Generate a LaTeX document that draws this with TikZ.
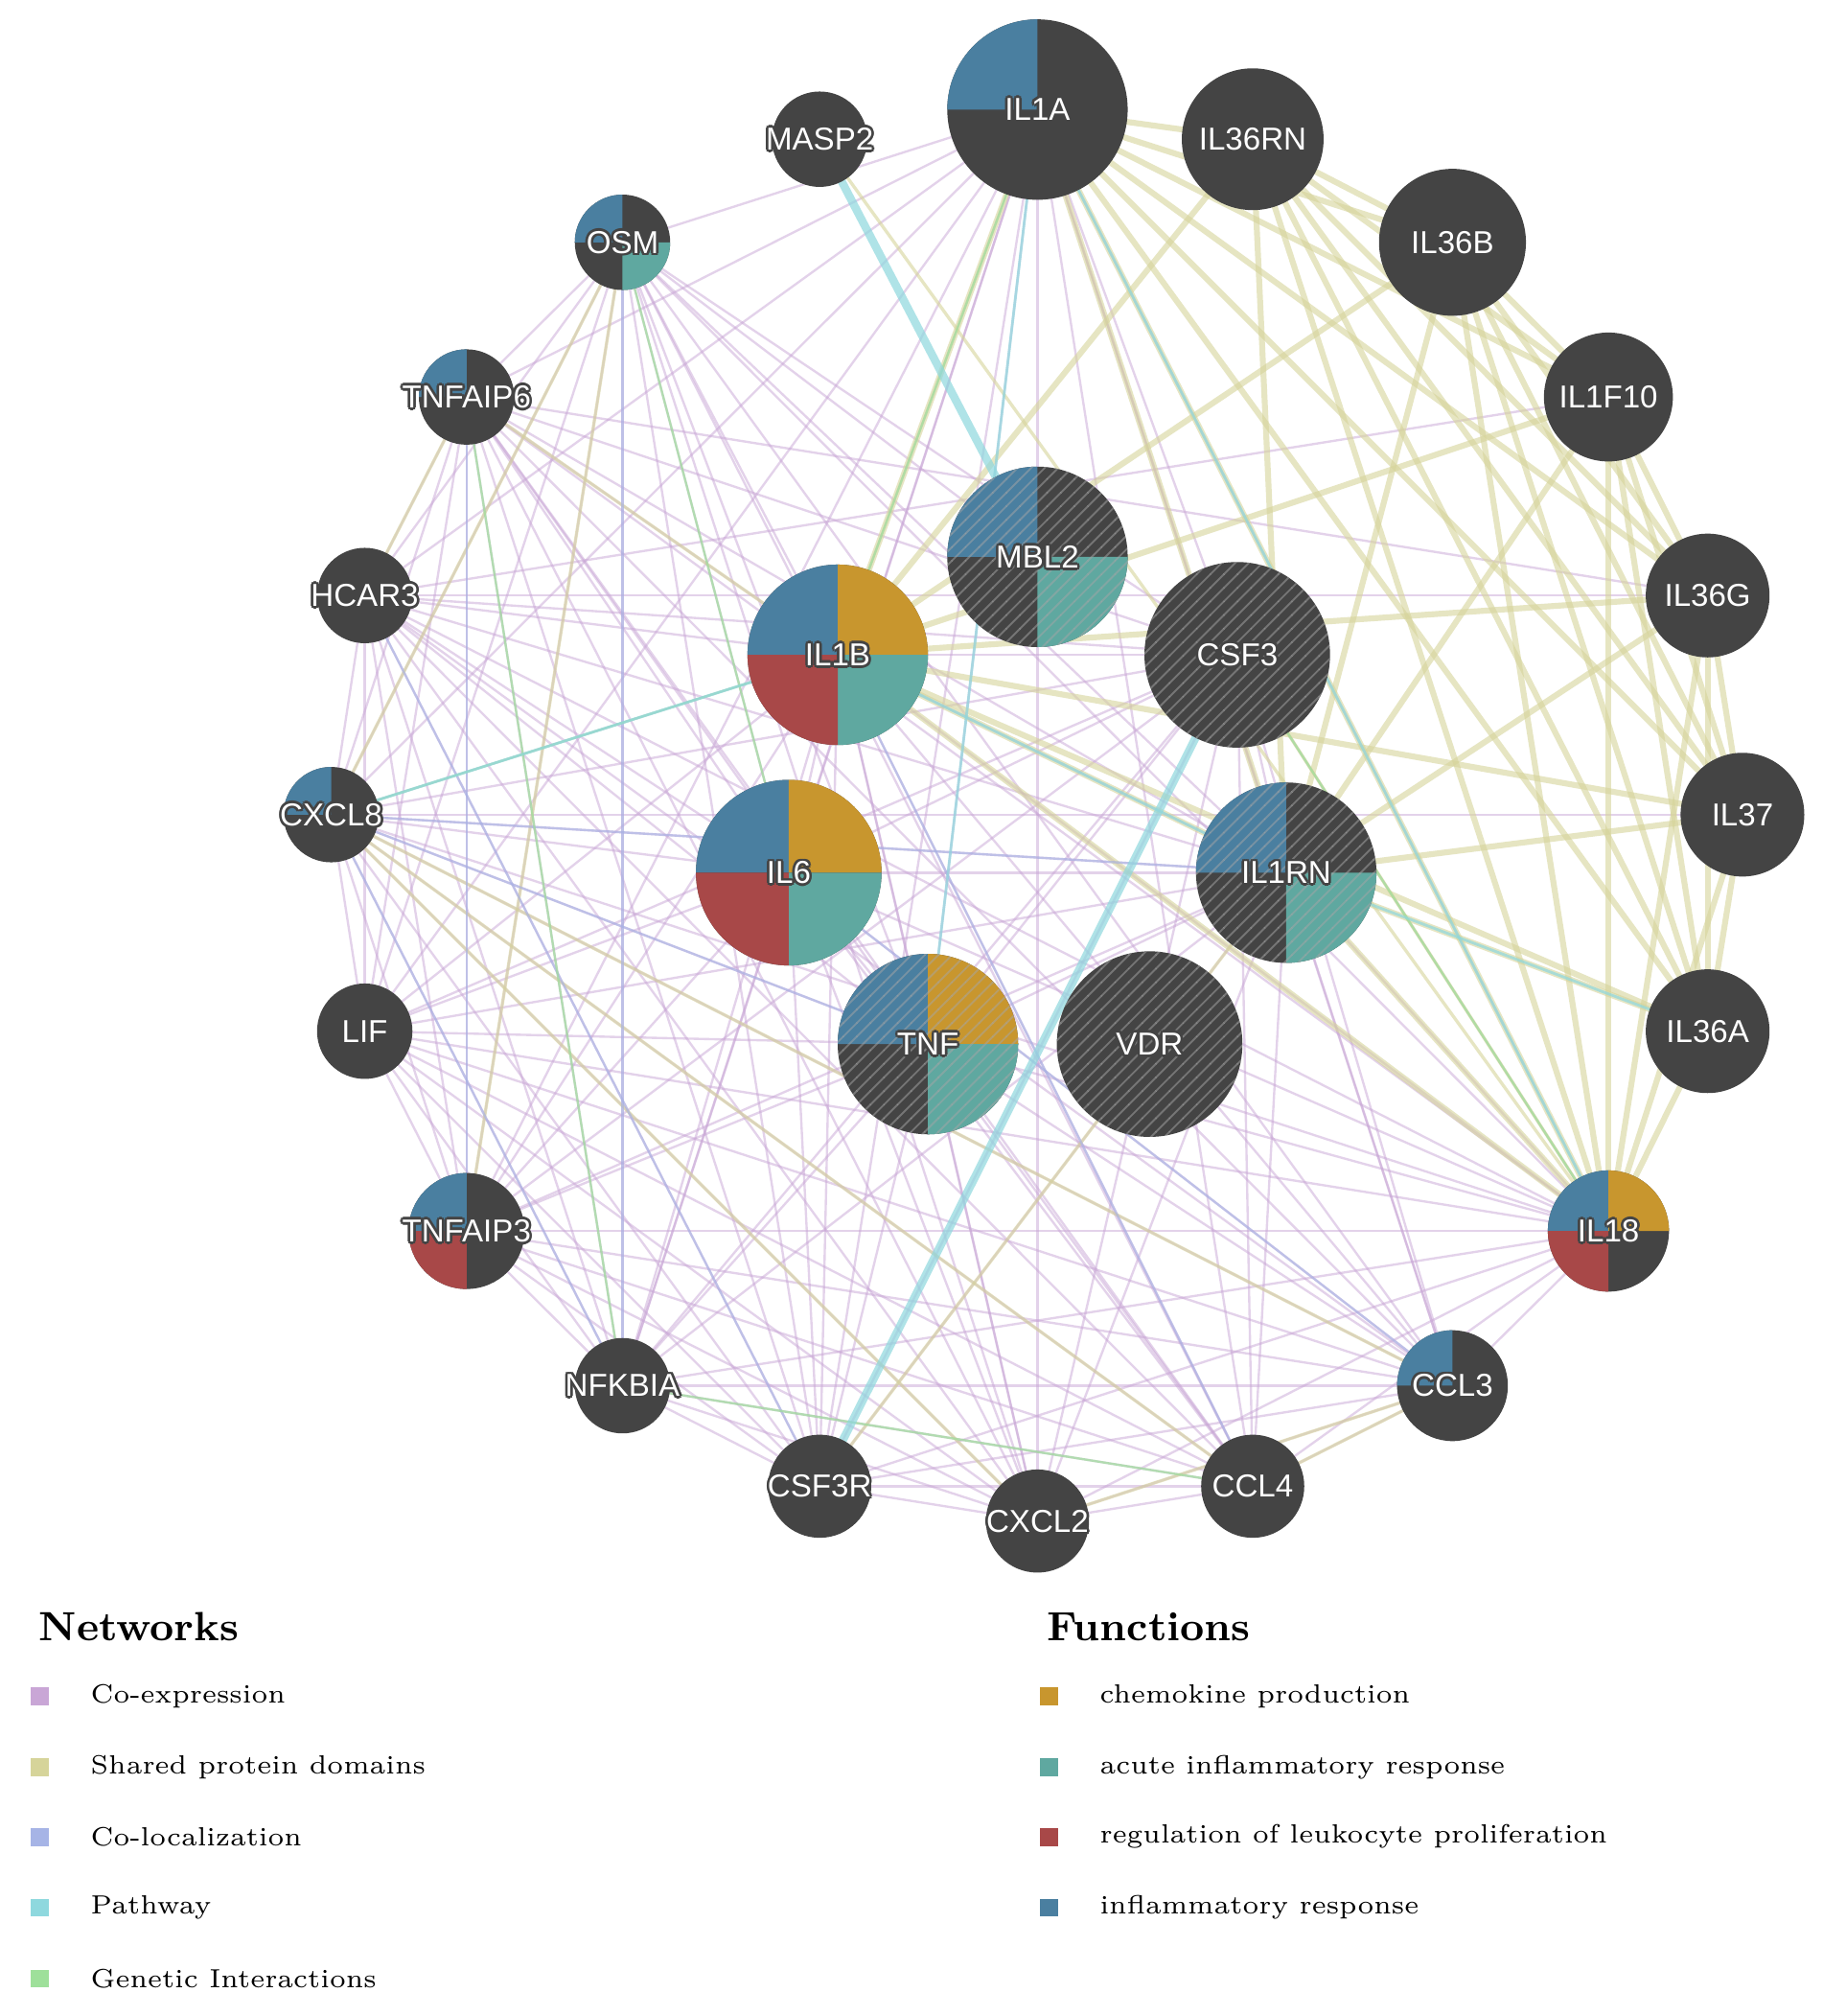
\documentclass[tikz,border=0pt]{standalone}
\usepackage{fontspec}
\setmainfont{Latin Modern Roman}
\newfontfamily\lab{Liberation Sans}
\usetikzlibrary{patterns,calc}
\definecolor{cblue}{HTML}{4A7FA0}
\definecolor{corange}{HTML}{C8962E}
\definecolor{cteal}{HTML}{5FA8A0}
\definecolor{cred}{HTML}{A84848}
\definecolor{cdark}{HTML}{444444}
\definecolor{ecoex}{HTML}{C9A6D6}
\definecolor{eshared}{HTML}{D6D49A}
\definecolor{ecoloc}{HTML}{A6B4E6}
\definecolor{epath}{HTML}{8ED8DE}
\definecolor{egen}{HTML}{9EE09A}
\tikzset{
 gene/.style={circle,fill=cdark,inner sep=0pt},
 lbl/.style={font=\lab\fontsize{7}{8}\selectfont,text=white},
 halo/.style={font=\lab\fontsize{7}{8}\selectfont,text=cdark},
 coex/.style={ecoex,line width=0.5pt,opacity=0.5},
 shared/.style={eshared,line width=1.3pt,opacity=0.6},
 coloc/.style={ecoloc,line width=0.5pt,opacity=0.6},
 path/.style={epath,line width=1.8pt,opacity=0.7},
 gen/.style={egen,line width=0.5pt,opacity=0.7},
 leg/.style={font=\fontsize{5.8}{7}\selectfont,anchor=west},
 legh/.style={font=\bfseries\fontsize{9}{11}\selectfont,anchor=west},
}
\newcommand{\qd}[4]{% center, radius, start angle, color
 \fill[#4] (#1) -- ++(#3:#2) arc[start angle=#3,delta angle=90,radius=#2] -- cycle;}
\begin{document}
\begin{tikzpicture}[x=0.01cm,y=-0.01cm]
\useasboundingbox (0,0) rectangle (1414,1564);
\fill[white] (0,0) rectangle (1414,1564);
\foreach \n/\x/\y in {IL1A/805/85,MASP2/636/108,IL36RN/972/108,OSM/483/188,IL36B/1127/188,TNFAIP6/362/308,IL1F10/1248/308,HCAR3/283/462,MBL2/805/432,IL36G/1325/462,IL1B/650/508,CSF3/960/508,CXCL8/257/632,IL37/1352/632,IL6/612/677,IL1RN/998/677,LIF/283/800,TNF/720/810,VDR/892/810,IL36A/1325/800,TNFAIP3/362/955,IL18/1248/955,NFKBIA/483/1075,CCL3/1127/1075,CSF3R/636/1153,CCL4/972/1153,CXCL2/805/1180}
 {\coordinate (\n) at (\x,\y);}
% co-expression
\foreach \a [count=\i] in {OSM,TNFAIP6,HCAR3,CXCL8,LIF,TNFAIP3,NFKBIA,CSF3R,CXCL2,CCL4,CCL3,IL1B,IL6,TNF,IL1A,IL1RN,CSF3,IL18}
 {\foreach \b [count=\j] in {OSM,TNFAIP6,HCAR3,CXCL8,LIF,TNFAIP3,NFKBIA,CSF3R,CXCL2,CCL4,CCL3,IL1B,IL6,TNF,IL1A,IL1RN,CSF3,IL18}
  {\ifnum\j>\i \draw[coex] (\a) -- (\b);\fi}}
\foreach \a/\b in {OSM/MBL2,TNFAIP6/IL36G,HCAR3/IL36G,CXCL8/IL37,HCAR3/IL1F10}
 {\draw[coex] (\a) -- (\b);}
% shared protein domains
\foreach \a [count=\i] in {IL1A,IL36RN,IL36B,IL1F10,IL36G,IL37,IL36A,IL18,IL1B,IL1RN}
 {\foreach \b [count=\j] in {IL1A,IL36RN,IL36B,IL1F10,IL36G,IL37,IL36A,IL18,IL1B,IL1RN}
  {\ifnum\j>\i \draw[shared] (\a) -- (\b);\fi}}
\foreach \a/\b in {OSM/CXCL8,OSM/TNFAIP3,TNFAIP6/HCAR3,CCL3/CXCL2,CCL4/CXCL8,CXCL2/CXCL8,CCL3/CXCL8,CCL4/CCL3,MASP2/IL18,TNFAIP6/IL1B,CSF3/IL18,CSF3R/IL1RN}
 {\draw[shared,line width=0.7pt] (\a) -- (\b);}
% co-localization
\foreach \a/\b in {OSM/NFKBIA,TNFAIP6/TNFAIP3,HCAR3/CSF3R,CXCL8/IL1RN,IL6/CCL3,TNF/CXCL8,NFKBIA/CXCL8,IL1B/CCL4}
 {\draw[coloc] (\a) -- (\b);}
% genetic interactions
\foreach \a/\b in {TNFAIP6/NFKBIA,IL1A/IL1B,CXCL8/IL1B,IL18/CSF3,NFKBIA/CCL4,OSM/IL6}
 {\draw[gen] (\a) -- (\b);}
% pathway
\draw[path] (MASP2) -- (MBL2);
\draw[path] (CSF3R) -- (CSF3);
\foreach \a/\b in {IL1A/IL18,IL1RN/IL1B,CXCL8/IL1B,TNF/IL1A,IL36A/IL1RN}
 {\draw[epath,line width=0.6pt,opacity=0.7] (\a) -- (\b);}
% nodes
\foreach \n/\r in {IL1A/70,MASP2/37,IL36RN/55,OSM/37,IL36B/57,TNFAIP6/37,IL1F10/50,HCAR3/37,MBL2/70,IL36G/48,IL1B/70,CSF3/72,CXCL8/37,IL37/48,IL6/72,IL1RN/70,LIF/37,TNF/70,VDR/72,IL36A/48,TNFAIP3/45,IL18/47,NFKBIA/37,CCL3/43,CSF3R/40,CCL4/40,CXCL2/40}
 {\fill[cdark] (\n) circle[radius=\r];}
\qd{IL1A}{70}{180}{cblue}
\qd{OSM}{37}{180}{cblue}\qd{OSM}{37}{0}{cteal}
\qd{TNFAIP6}{37}{180}{cblue}
\qd{MBL2}{70}{180}{cblue}\qd{MBL2}{70}{0}{cteal}
\qd{IL1B}{70}{180}{cblue}\qd{IL1B}{70}{270}{corange}\qd{IL1B}{70}{0}{cteal}\qd{IL1B}{70}{90}{cred}
\qd{IL6}{72}{180}{cblue}\qd{IL6}{72}{270}{corange}\qd{IL6}{72}{0}{cteal}\qd{IL6}{72}{90}{cred}
\qd{CXCL8}{37}{180}{cblue}
\qd{IL1RN}{70}{180}{cblue}\qd{IL1RN}{70}{0}{cteal}
\qd{TNF}{70}{180}{cblue}\qd{TNF}{70}{270}{corange}\qd{TNF}{70}{0}{cteal}
\qd{TNFAIP3}{45}{180}{cblue}\qd{TNFAIP3}{45}{90}{cred}
\qd{IL18}{47}{180}{cblue}\qd{IL18}{47}{270}{corange}\qd{IL18}{47}{90}{cred}
\qd{CCL3}{43}{180}{cblue}
\foreach \n/\r in {MBL2/70,CSF3/72,IL1RN/70,TNF/70,VDR/72}
 {\fill[pattern=north east lines,pattern color=gray!70,opacity=0.5] (\n) circle[radius=\r];}
% labels with dark halo
\foreach \n in {IL1A,MASP2,IL36RN,OSM,IL36B,TNFAIP6,IL1F10,HCAR3,MBL2,IL36G,IL1B,CSF3,CXCL8,IL37,IL6,IL1RN,LIF,TNF,VDR,IL36A,TNFAIP3,IL18,NFKBIA,CCL3,CSF3R,CCL4,CXCL2}
 {\foreach \dx/\dy in {-2/0,2/0,0/-2,0/2,-1.5/-1.5,1.5/1.5,-1.5/1.5,1.5/-1.5}
   {\node[halo] at ($(\n)+(\dx,\dy)$) {\n};}
  \node[lbl,name=L\n] at (\n) {\n};}
% legend
\node[legh] (hn) at (18,1262) {Networks};
\node[legh] (hf) at (800,1262) {Functions};
\foreach \c/\t/\y in {ecoex/Co-expression/1316,eshared/Shared protein domains/1371,ecoloc/Co-localization/1425,epath/Pathway/1480,egen/Genetic Interactions/1535}
 {\fill[\c] (24,\y-7) rectangle (38,\y+7); \node[leg] at (58,\y) {\t};}
\foreach \c/\t/\y in {corange/chemokine production/1316,cteal/acute inflammatory response/1371,cred/regulation of leukocyte proliferation/1425,cblue/inflammatory response/1480}
 {\fill[\c] (807,\y-7) rectangle (821,\y+7); \node[leg] at (841,\y) {\t};}
\end{tikzpicture}
\end{document}
